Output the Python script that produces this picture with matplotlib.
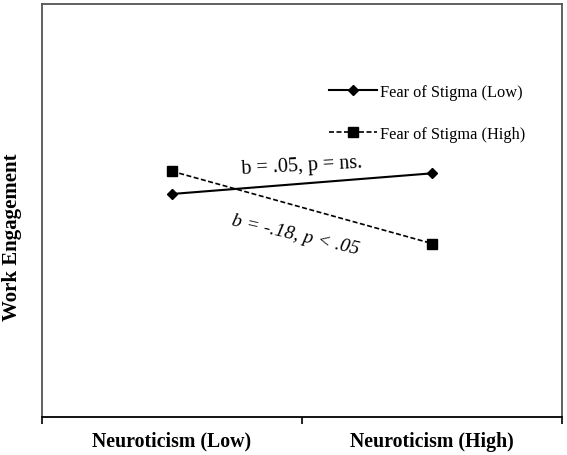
import matplotlib.pyplot as plt

plt.rcParams['font.family'] = ['Liberation Serif', 'DejaVu Serif']

# data (arbitrary work engagement units)
groups = ['Neuroticism (Low)', 'Neuroticism (High)']
fear_low = [3.16, 3.36]
fear_high = [3.38, 2.68]
series_names = ['Fear of Stigma (Low)', 'Fear of Stigma (High)']
slope_notes = ['b = .05, p = ns.', 'b = -.18, p < .05']

fig = plt.figure(figsize=(5.67, 4.56), dpi=100)
ax = fig.add_axes([42 / 567, 38 / 456, 520 / 567, 413 / 456])

xs = [0.5, 1.5]
ax.plot(xs, fear_low, color='black', lw=1.5, marker='D', ms=5,
        label=series_names[0])
ax.plot(xs, fear_high, color='black', lw=1.2, ls=(0, (3, 1.5)), marker='s',
        ms=6.5, label=series_names[1])

ax.set_xlim(0, 2)
ax.set_ylim(1, 5)

# frame
for side in ['left', 'top', 'right']:
    ax.spines[side].set_color('#555555')
    ax.spines[side].set_linewidth(1.3)
ax.spines['bottom'].set_color('black')
ax.spines['bottom'].set_linewidth(1.3)

ax.set_yticks([])
ax.set_xticks([0, 1, 2])
ax.set_xticklabels([])
ax.tick_params(axis='x', which='major', direction='out', length=5, width=1.2,
               color='black')
ax.set_xticks(xs, minor=True)
ax.set_xticklabels(groups, minor=True, fontsize=14.3, fontweight='bold')
ax.tick_params(axis='x', which='minor', length=0, pad=10)

fig.text(12 / 567, 0.479, 'Work Engagement', rotation=90, fontsize=15,
         fontweight='bold', ha='center', va='center')

leg = ax.legend(loc='upper left', bbox_to_anchor=(0.552, 0.806), frameon=False,
                fontsize=11.8, handlelength=2.9, handletextpad=0.2,
                labelspacing=1.55, borderpad=0, borderaxespad=0)

ax.text(0.5, 0.61, slope_notes[0], transform=ax.transAxes, fontsize=14.5,
        rotation=3, ha='center', va='center')
ax.text(0.487, 0.443, slope_notes[1], transform=ax.transAxes, fontsize=14,
        style='italic', rotation=-13, ha='center', va='center')

fig.savefig('out.png', dpi=100)
